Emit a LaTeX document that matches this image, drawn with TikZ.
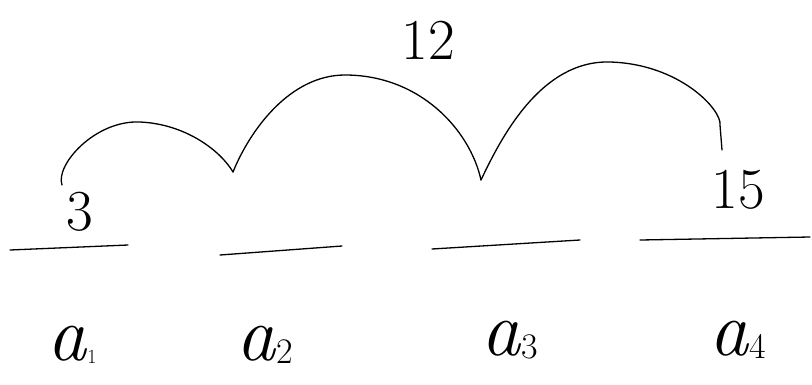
\documentclass[tikz,border=0pt]{standalone}
\newcommand{\lab}[2]{\textit{a}\raisebox{-0.1ex}{\fontsize{#2}{#2}\selectfont #1}}
\begin{document}
\begin{tikzpicture}[x=1pt,y=-1pt,
  ink/.style={line width=1.3pt,line cap=round,line join=round},
  txt/.style={font=\fontsize{58}{64}\selectfont,inner sep=0pt},
  ltxt/.style={font=\fontsize{78}{84}\selectfont,inner sep=0pt}]
\useasboundingbox (0,0) rectangle (812,384);
% blanks
\coordinate (b1s) at (10,250); \coordinate (b1e) at (128,245);
\coordinate (b2s) at (220,255); \coordinate (b2e) at (342,246);
\coordinate (b3s) at (432,249); \coordinate (b3e) at (580,240);
\coordinate (b4s) at (640,240); \coordinate (b4e) at (810,237);
\draw[ink] (b1s) -- (b1e);
\draw[ink] (b2s) -- (b2e);
\draw[ink] (b3s) -- (b3e);
\draw[ink] (b4s) -- (b4e);
% values
\node[txt] (v1) at (80,212) {3};
\node[txt] (v4) at (738,190) {15};
\node[txt] (v0) at (428,40) {12};
% arcs
\coordinate (p0) at (62,185);
\coordinate (p1) at (233,172);
\coordinate (p2) at (481,180);
\coordinate (p3) at (722,150);
\draw[ink] (p0) .. controls (55,165) and (95,120) .. (140,122)
  .. controls (185,124) and (220,150) .. (p1);
\draw[ink] (p1) .. controls (250,130) and (290,75) .. (345,75)
  .. controls (420,75) and (470,130) .. (p2);
\draw[ink] (p2) .. controls (500,140) and (540,60) .. (610,62)
  .. controls (680,64) and (722,110) .. (720,125) -- (p3);
% labels
\node[ltxt] (a1) at (72,345) {\lab{1}{20}};
\node[ltxt] (a2) at (265,345) {\lab{2}{36}};
\node[ltxt] (a3) at (510,340) {\lab{3}{36}};
\node[ltxt] (a4) at (738,340) {\lab{4}{36}};
\end{tikzpicture}
\end{document}
